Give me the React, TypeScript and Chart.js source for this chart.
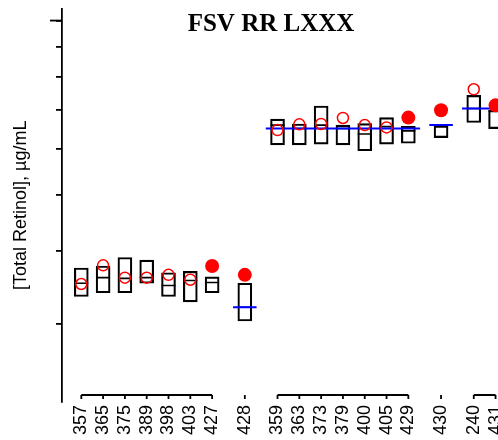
import { useEffect, useRef } from 'react';
import { Chart, registerables } from 'chart.js';

Chart.register(...registerables);

// Donor / sample identifiers along the x axis
const donors = ['357', '365', '375', '389', '398', '403', '427', '428', '359', '363', '373', '379', '400', '405', '429', '430', '240', '431'];
// Horizontal slot of each sample (groups separated by a gap)
const xPos = [0, 1, 2, 3, 4, 5, 6, 7.5, 9, 10, 11, 12, 13, 14, 15, 16.5, 18, 19];

// Box ranges and medians, µg/mL
const boxLow = [0.334, 0.339, 0.339, 0.352, 0.334, 0.327, 0.339, 0.303, 0.610, 0.610, 0.612, 0.610, 0.596, 0.612, 0.614, 0.628, 0.667, 0.651];
const boxHigh = [0.374, 0.377, 0.390, 0.386, 0.367, 0.369, 0.361, 0.352, 0.676, 0.663, 0.712, 0.660, 0.664, 0.680, 0.657, 0.660, 0.743, 0.700];
const boxMedian = [0.352, 0.360, 0.359, 0.360, 0.349, 0.356, 0.353, 0.320, 0.660, 0.651, 0.660, 0.651, 0.637, 0.656, 0.645, 0.655, 0.705, 0.698];

// Reported results: open markers and solid markers
const openResult = [0.351, 0.378, 0.360, 0.360, 0.364, 0.357, null, null, 0.647, 0.662, 0.663, 0.679, 0.660, 0.654, null, null, 0.761, null];
const solidResult = [null, null, null, null, null, null, 0.377, 0.364, null, null, null, null, null, null, 0.680, 0.700, null, 0.714];

// Sample groups (first index, last index) and their assigned values
const groups: [number, number][] = [[0, 6], [7, 7], [8, 14], [15, 15], [16, 17]];
const groupMean: (number | null)[] = [null, 0.320, 0.651, 0.660, 0.705];

// Log-axis tick values
const yTicks = [0.3, 0.4, 0.5, 0.6, 0.7, 0.8, 0.9, 1.0];

const sans = '"Liberation Sans", Arial, sans-serif';

const groupAxisPlugin = {
  id: 'groupAxis',
  afterDraw(chart: any) {
    const { ctx, chartArea, scales } = chart;
    const x = scales.x;
    const y = scales.y;
    ctx.save();
    ctx.strokeStyle = '#000';
    ctx.lineWidth = 1.8;
    const yLine = chartArea.bottom - 7;
    for (const [a, b] of groups) {
      ctx.beginPath();
      if (b > a) {
        ctx.moveTo(x.getPixelForValue(xPos[a]), yLine);
        ctx.lineTo(x.getPixelForValue(xPos[b]), yLine);
      }
      for (let i = a; i <= b; i++) {
        const px = x.getPixelForValue(xPos[i]);
        ctx.moveTo(px, yLine);
        ctx.lineTo(px, yLine + 4);
      }
      ctx.stroke();
    }
    // longer mark at the decade tick
    const py = y.getPixelForValue(1);
    ctx.beginPath();
    ctx.moveTo(chartArea.left - 12, py);
    ctx.lineTo(chartArea.left, py);
    ctx.stroke();
    ctx.restore();
  },
};

export default function App() {
  const ref = useRef<HTMLCanvasElement>(null);

  useEffect(() => {
    const canvas = ref.current;
    if (!canvas) return;

    const blueData: { x: number; y: number | null }[] = [];
    groups.forEach(([a, b], g) => {
      const m = groupMean[g];
      if (m == null) return;
      blueData.push({ x: xPos[a] - 0.54, y: m }, { x: xPos[b] + 0.54, y: m }, { x: xPos[b] + 0.6, y: null });
    });

    const pts = (vals: (number | null)[]) =>
      xPos.map((x, i) => ({ x, y: vals[i] })).filter((p) => p.y != null);

    const chart = new Chart(canvas, {
      type: 'bar',
      data: {
        datasets: [
          {
            type: 'bar',
            data: xPos.map((x, i) => ({ x, y: [boxLow[i], boxHigh[i]] })) as any,
            backgroundColor: 'rgba(0,0,0,0)',
            borderColor: '#000',
            borderWidth: 1.5,
            borderSkipped: false,
            barThickness: 14,
            order: 5,
          },
          {
            type: 'scatter',
            data: pts(boxMedian) as any,
            pointStyle: 'line',
            pointRadius: 7,
            borderColor: '#000',
            borderWidth: 1.6,
            order: 4,
          },
          {
            type: 'line',
            data: blueData as any,
            borderColor: '#0000ff',
            borderWidth: 2,
            pointRadius: 0,
            spanGaps: false,
            order: 3,
          },
          {
            type: 'scatter',
            data: pts(openResult) as any,
            pointRadius: 5.5,
            borderColor: '#ff0000',
            backgroundColor: 'rgba(0,0,0,0)',
            borderWidth: 1.5,
            order: 2,
          },
          {
            type: 'scatter',
            data: pts(solidResult) as any,
            pointRadius: 7,
            backgroundColor: '#ff0000',
            borderColor: '#ff0000',
            borderWidth: 0,
            order: 1,
          },
        ],
      },
      options: {
        responsive: false,
        animation: false,
        devicePixelRatio: 1,
        layout: { padding: { top: 6, right: 12, left: 0, bottom: 0 } },
        plugins: {
          legend: { display: false },
          tooltip: { enabled: false },
          title: {
            display: true,
            text: 'FSV RR LXXX',
            color: '#000',
            font: { family: '"Liberation Serif", "Times New Roman", serif', size: 25, weight: 'bold' },
            padding: { top: 0.6, bottom: -30.6 },
          },
        },
        scales: {
          x: {
            type: 'linear',
            min: -0.885,
            max: 21.13,
            offset: false,
            grid: { display: false, drawTicks: false },
            border: { display: false },
            afterBuildTicks: (s: any) => {
              s.ticks = xPos.map((v) => ({ value: v }));
            },
            afterFit: (s: any) => {
              s.height = 38;
            },
            ticks: {
              autoSkip: false,
              minRotation: 90,
              maxRotation: 90,
              padding: 3,
              color: '#000',
              font: { family: sans, size: 18 },
              callback: (_v: any, i: number) => donors[i],
            },
          },
          y: {
            type: 'logarithmic',
            min: 0.2196,
            max: 1.0487,
            afterBuildTicks: (s: any) => {
              s.ticks = yTicks.map((v) => ({ value: v, major: v === 1 }));
            },
            afterFit: (s: any) => {
              s.width = 62;
            },
            ticks: { display: false },
            grid: { drawOnChartArea: false, drawTicks: true, tickLength: 6, color: '#000', lineWidth: 1.8 },
            border: { display: true, color: '#000', width: 1.8 },
            title: {
              display: true,
              text: '[Total Retinol], µg/mL',
              color: '#000',
              font: { family: sans, size: 18 },
              padding: { top: 10, bottom: 0 },
            },
          },
        },
      },
      plugins: [groupAxisPlugin],
    });

    return () => chart.destroy();
  }, []);

  return (
    <div style={{ position: 'fixed', left: 0, top: 0, width: 498, height: 440, overflow: 'hidden', background: '#fff' }}>
      <canvas ref={ref} width={554} height={440} style={{ display: 'block', width: 554, height: 440 }} />
    </div>
  );
}
